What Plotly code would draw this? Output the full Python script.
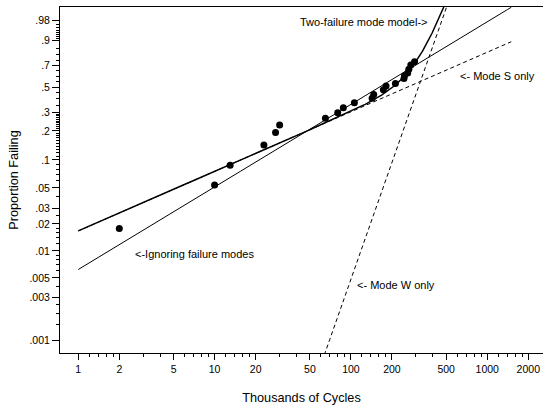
import numpy as np
import plotly.graph_objects as go

# Observed failures: thousands of cycles and plotted proportion failing
cycles = [2, 10, 13, 23, 28, 30, 65, 80, 88, 106, 143, 147, 173, 181, 212,
          245, 247, 261, 266, 275, 293]
prop_failing = [0.0178, 0.0536, 0.088, 0.1435, 0.193, 0.229, 0.266, 0.300,
                0.333, 0.369, 0.404, 0.435, 0.475, 0.509, 0.533, 0.578,
                0.605, 0.630, 0.665, 0.705, 0.735]

# Weibull fits as (scale in thousands of cycles, shape)
mode_s_fit = (451.0, 0.668)
mode_w_fit = (340.6, 4.35)
ignoring_fit = (241.0, 0.926)
fit_span = (1, 1500)

# Axis ticks
y_ticks = [0.001, 0.003, 0.005, 0.01, 0.02, 0.03, 0.05, 0.1, 0.2, 0.3, 0.5,
           0.7, 0.9, 0.98]
y_tick_text = [".001", ".003", ".005", ".01", ".02", ".03", ".05", ".1",
               ".2", ".3", ".5", ".7", ".9", ".98"]
y_minor = [0.0015, 0.002, 0.0025, 0.004, 0.006, 0.007, 0.008, 0.009,
           0.012, 0.014, 0.016, 0.018, 0.025, 0.04, 0.06, 0.07, 0.08, 0.09,
           0.11, 0.12, 0.13, 0.14, 0.15, 0.16, 0.17, 0.18, 0.19,
           0.21, 0.22, 0.23, 0.24, 0.25, 0.26, 0.27, 0.28, 0.29,
           0.35, 0.4, 0.45, 0.55, 0.6, 0.65, 0.75, 0.8, 0.85,
           0.91, 0.92, 0.93, 0.94, 0.95, 0.96, 0.97]
x_ticks = [1, 2, 5, 10, 20, 50, 100, 200, 500, 1000, 2000]
x_minor = [1.2, 1.4, 1.6, 1.8, 3, 4, 6, 7, 8, 9, 12, 14, 16, 18, 30, 40,
           60, 70, 80, 90, 120, 140, 160, 180, 300, 400, 600, 700, 800, 900,
           1200, 1400, 1600, 1800]

FONT = "Liberation Sans, Arial, sans-serif"


def weibull_scale(p):
    """Weibull probability-paper coordinate: log(-log(1 - p))."""
    p = np.asarray(p, dtype=float)
    return np.log(-np.log1p(-p))


def cum_hazard(t, fit):
    eta, beta = fit
    return (t / eta) ** beta


t = np.logspace(np.log10(fit_span[0]), np.log10(fit_span[1]), 600)
h_s = cum_hazard(t, mode_s_fit)
h_w = cum_hazard(t, mode_w_fit)
h_ign = cum_hazard(t, ignoring_fit)

fig = go.Figure()
fig.add_trace(go.Scatter(x=t, y=np.log(h_ign), mode="lines",
                         line=dict(color="black", width=1)))
fig.add_trace(go.Scatter(x=t, y=np.log(h_s), mode="lines",
                         line=dict(color="black", width=1, dash="4px,3px")))
fig.add_trace(go.Scatter(x=t, y=np.log(h_w), mode="lines",
                         line=dict(color="black", width=1, dash="4px,3px")))
# Competing-risk model: cumulative hazards of the two modes add
fig.add_trace(go.Scatter(x=t, y=np.log(h_s + h_w), mode="lines",
                         line=dict(color="black", width=1.5)))
fig.add_trace(go.Scatter(x=cycles, y=weibull_scale(prop_failing),
                         mode="markers",
                         marker=dict(color="black", size=7,
                                     line=dict(width=0))))

ann_font = dict(family=FONT, size=11, color="black")
notes = [
    ("Two-failure mode model->", 372, 0.976, "right"),
    ("<- Mode S only", 615, 0.60, "left"),
    ("<- Mode W only", 108, 0.0042, "left"),
    ("<-Ignoring failure modes", 2.5, 0.0093, "left"),
]
for text, xv, pv, anchor in notes:
    fig.add_annotation(x=np.log10(xv), y=float(weibull_scale(pv)),
                       xref="x", yref="y", text=text, showarrow=False,
                       xanchor=anchor, yanchor="middle", font=ann_font)

fig.update_layout(
    width=543, height=408,
    margin=dict(l=60, r=0, t=7, b=55),
    paper_bgcolor="white", plot_bgcolor="white",
    showlegend=False,
    font=dict(family=FONT, size=10.5, color="black"),
    xaxis=dict(
        type="log", range=[-0.134, 3.409],
        tickmode="array", tickvals=x_ticks,
        ticktext=[str(v) for v in x_ticks],
        ticks="outside", ticklen=6, tickwidth=1, tickcolor="black",
        showline=True, linecolor="black", linewidth=1, mirror=True,
        showgrid=False, zeroline=False,
        minor=dict(tickmode="array", tickvals=x_minor, ticks="outside",
                   ticklen=3, tickwidth=1, tickcolor="black", showgrid=False),
        title=dict(text="Thousands of Cycles",
                   font=dict(family=FONT, size=12.7), standoff=19),
        tickfont=dict(family=FONT, size=10.5),
    ),
    yaxis=dict(
        range=[-7.235, 1.700],
        tickmode="array", tickvals=weibull_scale(y_ticks).tolist(),
        ticktext=y_tick_text,
        ticks="outside", ticklen=7, tickwidth=1, tickcolor="black",
        showline=True, linecolor="black", linewidth=1, mirror=False,
        showgrid=False, zeroline=False,
        minor=dict(tickmode="array",
                   tickvals=weibull_scale(y_minor).tolist(),
                   ticks="outside", ticklen=3, tickwidth=1,
                   tickcolor="black", showgrid=False),
        title=dict(text="Proportion Failing",
                   font=dict(family=FONT, size=12.7), standoff=8),
        tickfont=dict(family=FONT, size=10.5),
    ),
)

fig.write_html("out.html")
